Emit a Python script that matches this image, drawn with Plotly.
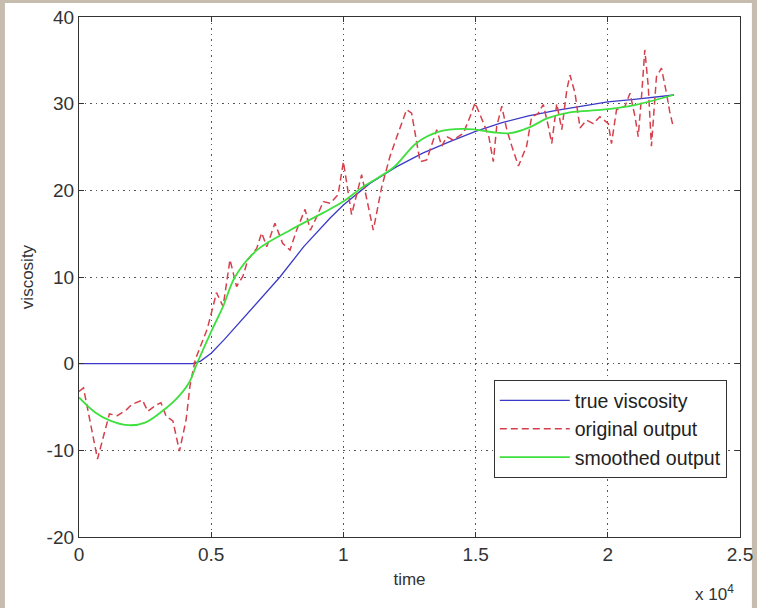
import plotly.graph_objects as go

# ---- data ----
true_t = [0, 4300, 4600, 5000, 5500, 6000, 7000, 7600, 8500, 9500, 10000, 11000, 12000, 13000,
          14000, 15000, 16000, 17000, 18000, 19000, 20000, 21000, 22000, 22500]
true_v = [0, 0, 0.3, 1.2, 2.8, 4.5, 8.0, 10.0, 13.5, 16.8, 18.3, 20.8, 22.7, 24.3,
          25.6, 26.8, 27.8, 28.6, 29.2, 29.7, 30.2, 30.5, 30.8, 31.0]

orig_t = [0, 170, 700, 1150, 1450, 1800, 2000, 2400, 2600, 2900, 3100, 3300, 3550, 3800,
          4050, 4200, 4400, 4650, 4850, 5070, 5200, 5450, 5710, 5960, 6200, 6390, 6720,
          6910, 7100, 7410, 7700, 7980, 8230, 8550, 8750, 9000, 9240, 9500, 9800, 10000,
          10150, 10310, 10690, 11130, 11450, 11760, 12000, 12390, 12580, 12770, 12900,
          13150, 13280, 13530, 13720, 13910, 14150, 14540, 14790, 14980, 15200, 15500,
          15670, 15800, 15990, 16180, 16370, 16620, 16930, 17120, 17350, 17560, 17750,
          17880, 18070, 18260, 18450, 18570, 18760, 18950, 19200, 19450, 19700, 20020,
          20140, 20330, 20650, 20840, 21030, 21150, 21280, 21400, 21530, 21650, 21840,
          22030, 22220, 22340, 22470]
orig_v = [-3.2, -2.8, -11.0, -5.8, -6.0, -5.3, -4.7, -4.2, -5.5, -4.8, -4.5, -6.1, -6.6, -10.1,
          -6.5, -2.5, 0.5, 2.5, 4.0, 6.6, 8.2, 6.6, 12.0, 8.9, 10.1, 12.0, 13.3,
          15.1, 13.5, 16.2, 13.9, 13.1, 15.4, 17.8, 15.4, 17.0, 18.7, 18.5, 19.5, 23.3,
          20.1, 17.2, 21.8, 15.4, 20.4, 23.9, 26.0, 29.3, 28.9, 25.8, 23.3,
          23.5, 24.7, 27.0, 25.1, 26.2, 25.8, 26.6, 28.5, 30.1, 28.5, 26.2,
          23.3, 27.4, 29.7, 27.0, 25.1, 22.8, 25.1, 28.5, 28.8, 29.9, 27.4,
          25.4, 30.0, 27.0, 31.6, 33.3, 31.2, 27.2, 28.1, 27.7, 28.5, 27.7,
          25.4, 29.3, 29.7, 31.2, 28.5, 26.2, 31.0, 36.2, 32.0, 25.1, 33.1,
          34.1, 31.2, 29.1, 27.4]

smooth_t = [0, 600, 1200, 1890, 2500, 3140, 3700, 4160, 4460, 5030, 5450, 5900, 6730,
            7980, 9230, 9990, 10740, 11880, 12780, 13650, 14500, 15000, 15660, 16300,
            17060, 17700, 18570, 19820, 21100, 22470]
smooth_v = [-3.9, -5.6, -6.6, -7.1, -6.8, -5.5, -4.0, -2.2, 0.0, 3.9, 6.6, 10.0, 13.1,
            15.4, 17.4, 18.7, 20.4, 22.6, 25.5, 26.8, 27.1, 27.0, 26.7, 26.6,
            27.3, 28.3, 29.0, 29.3, 29.9, 31.0]

xtick_vals = [0, 5000, 10000, 15000, 20000, 25000]
xtick_text = ["0", "0.5", "1", "1.5", "2", "2.5"]
ytick_vals = [-20, -10, 0, 10, 20, 30, 40]
ytick_text = ["-20", "-10", "0", "10", "20", "30", "40"]

fig = go.Figure()
fig.add_trace(go.Scatter(x=true_t, y=true_v, mode="lines", name="true viscosity",
                         line=dict(color="#3a3ac8", width=1.3)))
fig.add_trace(go.Scatter(x=orig_t, y=orig_v, mode="lines", name="original output",
                         line=dict(color="#d6404c", width=1.5, dash="7px,4px")))
fig.add_trace(go.Scatter(x=smooth_t, y=smooth_v, mode="lines", name="smoothed output",
                         line=dict(color="#3ee03e", width=1.8, shape="spline")))

FONT = "Liberation Sans, Arial, sans-serif"
axis_common = dict(
    showline=True, linecolor="#333333", linewidth=1.3, mirror="allticks",
    ticks="inside", ticklen=5, tickcolor="#333333", automargin=False,
    showgrid=True, gridcolor="#555555", gridwidth=1, griddash="1.5px,4px",
    zeroline=False, tickfont=dict(family=FONT, size=19, color="#333333"),
)

fig.update_xaxes(range=[0, 25000], tickvals=xtick_vals, ticktext=xtick_text,
                 title=dict(text="time", font=dict(family=FONT, size=17, color="#333333"),
                            standoff=9), **axis_common)
fig.update_yaxes(range=[-20, 40], tickvals=ytick_vals, ticktext=ytick_text,
                 title=dict(text="viscosity", font=dict(family=FONT, size=17, color="#333333"),
                            standoff=8), **axis_common)

fig.add_annotation(text="x 10<sup>4</sup>", xref="paper", yref="paper",
                   x=0.962, y=-0.083, xanchor="center", yanchor="top", showarrow=False,
                   font=dict(family=FONT, size=17, color="#333333"))

# white card over the textured border
fig.add_shape(type="rect", xref="paper", yref="paper",
              x0=-0.112, x1=1.018, y0=-0.14, y1=1.027,
              fillcolor="white", line=dict(width=0), layer="below")

fig.update_layout(
    width=757, height=608,
    margin=dict(l=79, r=17, t=17, b=71),
    paper_bgcolor="#c6bdae", plot_bgcolor="white",
    font=dict(family=FONT, color="#333333"),
    legend=dict(x=0.98, y=0.113, xanchor="right", yanchor="bottom",
                bgcolor="white", bordercolor="#333333", borderwidth=1,
                font=dict(family=FONT, size=19.5, color="#222222"),
                tracegroupgap=0, itemwidth=70),
    showlegend=True,
)

fig.write_html("out.html", config={"displayModeBar": False},
               post_script="document.body.style.margin='0px';document.body.style.overflow='hidden';")
